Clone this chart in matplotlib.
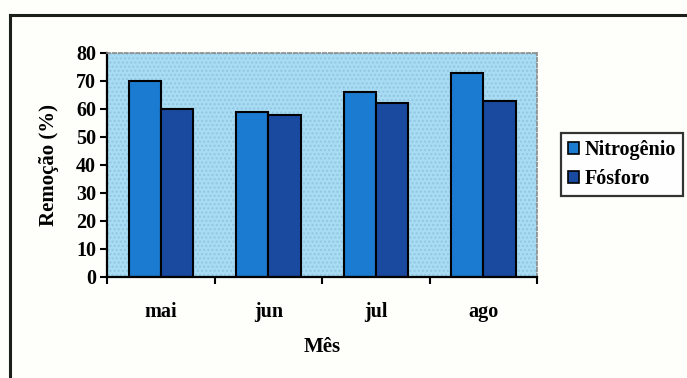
import matplotlib
matplotlib.use("Agg")
import matplotlib.pyplot as plt
from matplotlib.patches import Rectangle, Patch
import numpy as np

# Data
meses = ["mai", "jun", "jul", "ago"]
nitrogenio = [70, 59, 66, 73]
fosforo = [60, 58, 62, 63]
series_nomes = ["Nitrogênio", "Fósforo"]
yticks = [0, 10, 20, 30, 40, 50, 60, 70, 80]

cor_n = "#1b7bd1"
cor_p = "#1a4aa0"
fundo = "#a9dbf3"

plt.rcParams["font.family"] = ["Liberation Serif", "DejaVu Serif"]
plt.rcParams["font.weight"] = "bold"

fig = plt.figure(figsize=(6.87, 3.78), dpi=100, facecolor="#fefefb")

# outer frame (top and left edges visible)
fig.add_artist(plt.Line2D([9.5 / 687, 1.0], [1 - 14.5 / 378] * 2, color="#1a1f1a", lw=2.2))
fig.add_artist(plt.Line2D([9.5 / 687] * 2, [0.0, 1 - 14.5 / 378], color="#1a1f1a", lw=2.2))

ax = fig.add_axes([107 / 687, 1 - 277 / 378, 430 / 687, 224 / 378])
ax.set_facecolor(fundo)
ax.add_patch(Rectangle((0, 0), 1, 1, transform=ax.transAxes, facecolor="none",
                       edgecolor="#8fc7e4", hatch="....", lw=0, zorder=0))

x = np.arange(len(meses))
w = 0.3
ax.bar(x - w / 2, nitrogenio, w, color=cor_n, edgecolor="black", lw=1.5, zorder=2)
ax.bar(x + w / 2, fosforo, w, color=cor_p, edgecolor="black", lw=1.5, zorder=2)

ax.set_xlim(-0.5, len(meses) - 0.5)
ax.set_ylim(0, 80)
ax.set_yticks(yticks)
ax.set_yticklabels([str(v) for v in yticks], fontsize=14.5, fontweight="bold")
ax.set_xticks(x)
ax.set_xticklabels(meses, fontsize=14.5, fontweight="bold")
ax.set_xticks(np.arange(-0.5, len(meses)), minor=True)
ax.tick_params(axis="x", which="major", length=0, pad=18)
ax.tick_params(axis="x", which="minor", length=5, width=1.5, direction="out")
ax.tick_params(axis="y", length=5, width=1.5, direction="out", pad=3)

for s in ["left", "bottom"]:
    ax.spines[s].set_linewidth(1.6)
    ax.spines[s].set_color("black")
for s in ["top", "right"]:
    ax.spines[s].set_linestyle((0, (2, 1.5)))
    ax.spines[s].set_color("#8a8a8a")
    ax.spines[s].set_linewidth(1.2)

ax.set_ylabel("Remoção (%)", fontsize=15, fontweight="bold", labelpad=12)
ax.set_xlabel("Mês", fontsize=15, fontweight="bold", labelpad=11)

handles = [Patch(facecolor=cor_n, edgecolor="black", lw=1.2),
           Patch(facecolor=cor_p, edgecolor="black", lw=1.2)]
leg = fig.legend(handles, series_nomes, loc="center",
                 bbox_to_anchor=(622 / 687, 1 - 164.5 / 378),
                 frameon=True, fancybox=False, edgecolor="black",
                 prop={"size": 14.5, "weight": "bold"},
                 handlelength=0.55, handleheight=0.55, handletextpad=0.25,
                 borderpad=0.35, labelspacing=0.45, borderaxespad=0)
leg.get_frame().set_linewidth(1.6)

fig.savefig("out.png", dpi=100, facecolor=fig.get_facecolor())
